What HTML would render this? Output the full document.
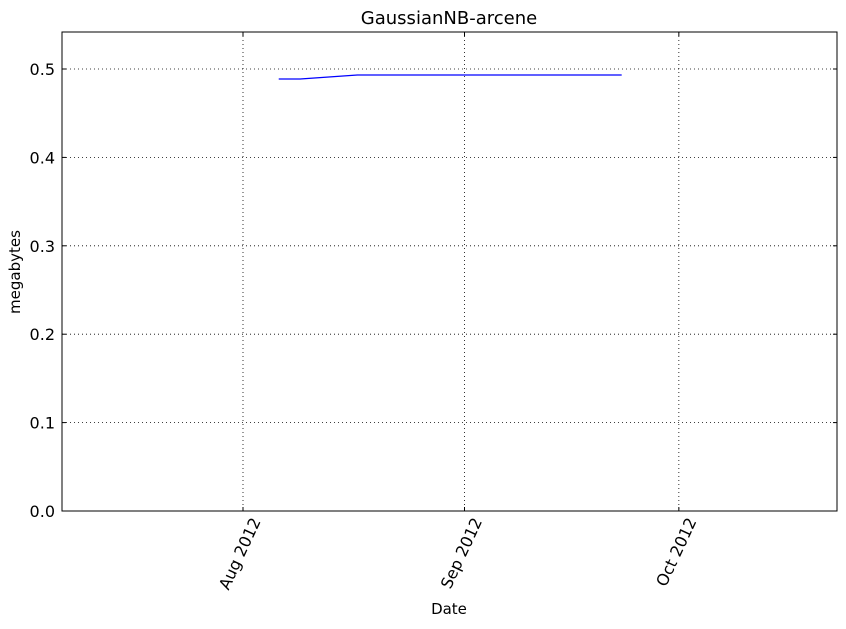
<!DOCTYPE html>
<html><head><meta charset="utf-8"><style>
body{margin:0;background:#fff;}
text{font-family:"DejaVu Sans","Liberation Sans",sans-serif;}
</style></head><body>
<svg id="chart" width="846" height="624" xmlns="http://www.w3.org/2000/svg"></svg>
<script>
const dates = ["2012-08-06","2012-08-09","2012-08-17","2012-09-23"];
const values = [0.4887,0.4887,0.4932,0.4932];
const yTicks = [0.0,0.1,0.2,0.3,0.4,0.5];
const xTickDates = ["2012-08-01","2012-09-01","2012-10-01"];
const xTickLabels = ["Aug 2012","Sep 2012","Oct 2012"];

const svg = document.getElementById('chart');
const NS = 'http://www.w3.org/2000/svg';
const L=62,R=837,T=32,B=511;
const base = Date.UTC(2012,7,1);
function day(s){const p=s.split('-');return (Date.UTC(+p[0],+p[1]-1,+p[2])-base)/86400000;}
function xs(s){return 243+day(s)*7.145;}
function ys(v){return B - v/0.5*(B-69);}
function mk(tag,attrs,name,parent){const e=document.createElementNS(NS,tag);for(const k in attrs)e.setAttribute(k,attrs[k]);


(parent||svg).appendChild(e);return e;}

yTicks.forEach((v,i)=>{const y=ys(v);
 if(v>0) mk('line',{x1:L,x2:R,y1:y,y2:y,stroke:'#000','stroke-width':0.8,'stroke-dasharray':'1,3'},'y-gridline');
 mk('line',{x1:L,x2:L+4,y1:y,y2:y,stroke:'#000'},'y-tick');
 mk('line',{x1:R-4,x2:R,y1:y,y2:y,stroke:'#000'},'y-tick-right');
 const t=mk('text',{x:L-7,y:y+6,'text-anchor':'end','font-size':16},'y-tick-label');t.textContent=v.toFixed(1);
});
xTickDates.forEach((d,i)=>{const x=xs(d);
 mk('line',{x1:x,x2:x,y1:T,y2:B,stroke:'#000','stroke-width':0.8,'stroke-dasharray':'1,3'},'x-gridline');
 mk('line',{x1:x,x2:x,y1:B-4,y2:B,stroke:'#000'},'x-tick');
 mk('line',{x1:x,x2:x,y1:T,y2:T+4,stroke:'#000'},'x-tick-top');
 const ax=x+18, ay=B+10;
 const t=mk('text',{x:ax,y:ay,'text-anchor':'end','font-size':16,transform:`rotate(-65 ${ax} ${ay})`},'x-tick-label');t.textContent=xTickLabels[i];
});
mk('rect',{x:L,y:T,width:R-L,height:B-T,fill:'none',stroke:'#000','stroke-width':1},'plot-frame');
mk('polyline',{points:dates.map((d,i)=>xs(d)+','+ys(values[i])).join(' '),fill:'none',stroke:'#0000ff','stroke-width':1.2},'series-line');
let t=mk('text',{x:449,y:24,'text-anchor':'middle','font-size':18},'chart-title');t.textContent='GaussianNB-arcene';
t=mk('text',{x:449,y:614,'text-anchor':'middle','font-size':15},'x-axis-title');t.textContent='Date';
t=mk('text',{x:20,y:272,'text-anchor':'middle','font-size':15,transform:'rotate(-90 20 272)'},'y-axis-title');t.textContent='megabytes';
</script>
</body></html>
